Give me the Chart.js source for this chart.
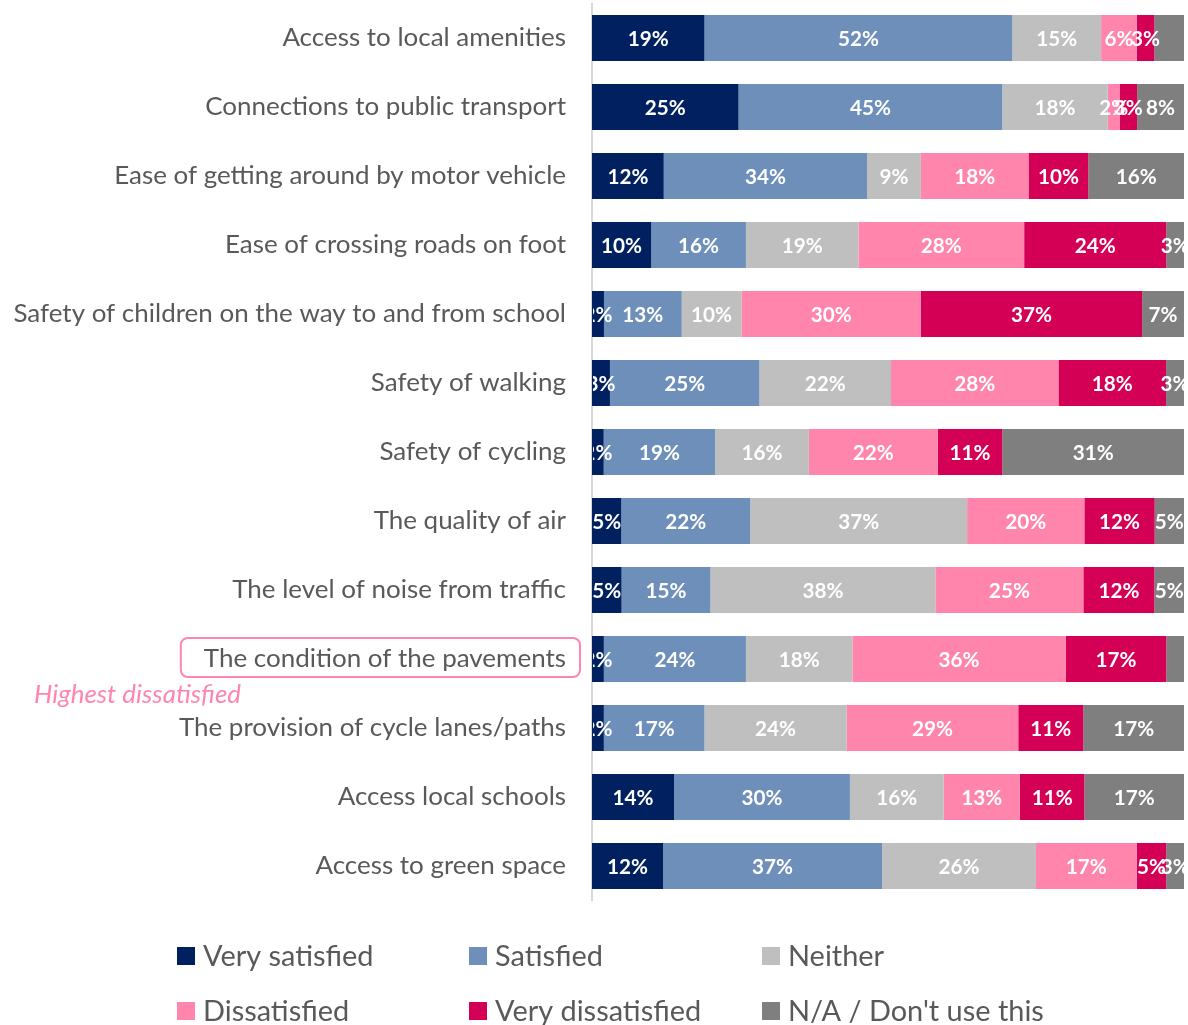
<!DOCTYPE html>
<html><head><meta charset="utf-8">
<script src="https://cdn.jsdelivr.net/npm/chart.js@4/dist/chart.umd.min.js"></script>
<style>html,body{margin:0;padding:0;background:#fff;overflow:hidden}#wrap{width:1188px;height:1025px;position:relative}</style>
</head><body><div id="wrap"><canvas id="c" width="1188" height="1025"></canvas></div>
<script>
const categories = [
  'Access to local amenities',
  'Connections to public transport',
  'Ease of getting around by motor vehicle',
  'Ease of crossing roads on foot',
  'Safety of children on the way to and from school',
  'Safety of walking',
  'Safety of cycling',
  'The quality of air',
  'The level of noise from traffic',
  'The condition of the pavements',
  'The provision of cycle lanes/paths',
  'Access local schools',
  'Access to green space'
];
const seriesNames = ['Very satisfied','Satisfied','Neither','Dissatisfied','Very dissatisfied',"N/A / Don't use this"];
const verySatisfied    = [19,25,12,10, 2, 3, 2, 5, 5, 2, 2,14,12];
const satisfied        = [52,45,34,16,13,25,19,22,15,24,17,30,37];
const neither          = [15,18, 9,19,10,22,16,37,38,18,24,16,26];
const dissatisfied     = [ 6, 2,18,28,30,28,22,20,25,36,29,13,17];
const veryDissatisfied = [ 3, 3,10,24,37,18,11,12,12,17,11,11, 5];
const notApplicable    = [ 5, 8,16, 3, 7, 3,31, 5, 5, 3,17,17, 3];
const hiddenLabels = [[5,0],[5,9]]; // [series, category] labels not shown in the original
const highlightCategory = 'The condition of the pavements';
const highlightNote = 'Highest dissatisfied';

const seriesValues = [verySatisfied, satisfied, neither, dissatisfied, veryDissatisfied, notApplicable];
const colors = ['#002060','#6d8fba','#bfbfbf','#ff85ad','#d40055','#7f7f7f'];
const rowSums = categories.map((_, i) => seriesValues.reduce((s, arr) => s + arr[i], 0));

const mctx = document.createElement('canvas').getContext('2d');
function fit(text, style, target) {
  mctx.font = style + ' 100px Lato';
  return 100 * target / mctx.measureText(text).width;
}
const tickSize = fit('Safety of children on the way to and from school', 'normal 400', 553);
const valSize = fit('13%', 'normal 700', 41);
const legSize = fit("N/A / Don't use this", 'normal 400', 256);
const noteSize = fit(highlightNote, 'italic 400', 207);

const datasets = seriesNames.map((name, d) => ({
  label: name,
  data: seriesValues[d].map((v, i) => v / rowSums[i] * 100),
  backgroundColor: colors[d],
  borderWidth: 0,
  barPercentage: 46 / 69,
  categoryPercentage: 1
}));

const labelPlugin = {
  id: 'vals',
  afterDatasetsDraw(chart) {
    const ctx = chart.ctx, ca = chart.chartArea;
    ctx.save();
    ctx.beginPath();
    ctx.rect(ca.left + 1, 0, chart.width - ca.left, chart.height);
    ctx.clip();
    ctx.font = `700 ${valSize}px Lato`;
    ctx.fillStyle = '#ffffff';
    ctx.textAlign = 'center';
    ctx.textBaseline = 'middle';
    seriesValues.forEach((arr, d) => {
      const meta = chart.getDatasetMeta(d);
      meta.data.forEach((bar, i) => {
        if (hiddenLabels.some(h => h[0] === d && h[1] === i)) return;
        ctx.fillText(arr[i] + '%', (bar.x + bar.base) / 2, bar.y + 1);
      });
    });
    ctx.restore();
  },
  afterDraw(chart) {
    const ctx = chart.ctx;
    const ys = chart.scales.y;
    const idx = categories.indexOf(highlightCategory);
    const cy = ys.getPixelForTick(idx);
    ctx.save();
    ctx.font = `400 ${tickSize}px Lato`;
    const tw = ctx.measureText(highlightCategory).width;
    const right = ys.right - 12, left = ys.right - 26 - tw - 23;
    ctx.strokeStyle = '#ff85ad';
    ctx.lineWidth = 2;
    ctx.beginPath();
    ctx.roundRect(left, cy - 21, right - left, 39, 7);
    ctx.stroke();
    ctx.font = `italic 400 ${noteSize}px Lato`;
    ctx.fillStyle = '#ff85ad';
    ctx.textAlign = 'left';
    ctx.textBaseline = 'middle';
    ctx.fillText(highlightNote, 34, cy + 36);
    const cols = [177, 469, 762], rows = [956, 1011];
    ctx.font = `400 ${legSize}px Lato`;
    seriesNames.forEach((name, d) => {
      const x = cols[d % 3], y = rows[Math.floor(d / 3)];
      ctx.fillStyle = colors[d];
      ctx.fillRect(x, y - 9, 18, 18);
      ctx.fillStyle = '#595959';
      ctx.fillText(name, x + 26, y + 1);
    });
    ctx.restore();
  }
};

new Chart(document.getElementById('c'), {
  type: 'bar',
  data: { labels: categories, datasets },
  options: {
    responsive: false, animation: false, devicePixelRatio: 1,
    indexAxis: 'y',
    layout: { autoPadding: false, padding: { top: 3.5, bottom: 124.5, left: 0, right: 4 } },
    scales: {
      x: { stacked: true, display: false, min: 0, max: 100 },
      y: {
        stacked: true,
        grid: { display: false, drawTicks: false },
        border: { display: true, color: '#d9d9d9', width: 2 },
        ticks: { padding: 26, color: '#595959', autoSkip: false, font: { family: 'Lato', size: tickSize } },
        afterFit(s) { s.width = 592; s.paddingTop = 0; s.paddingBottom = 0; }
      }
    },
    plugins: { legend: { display: false }, tooltip: { enabled: false } }
  },
  plugins: [labelPlugin]
});
</script></body></html>
